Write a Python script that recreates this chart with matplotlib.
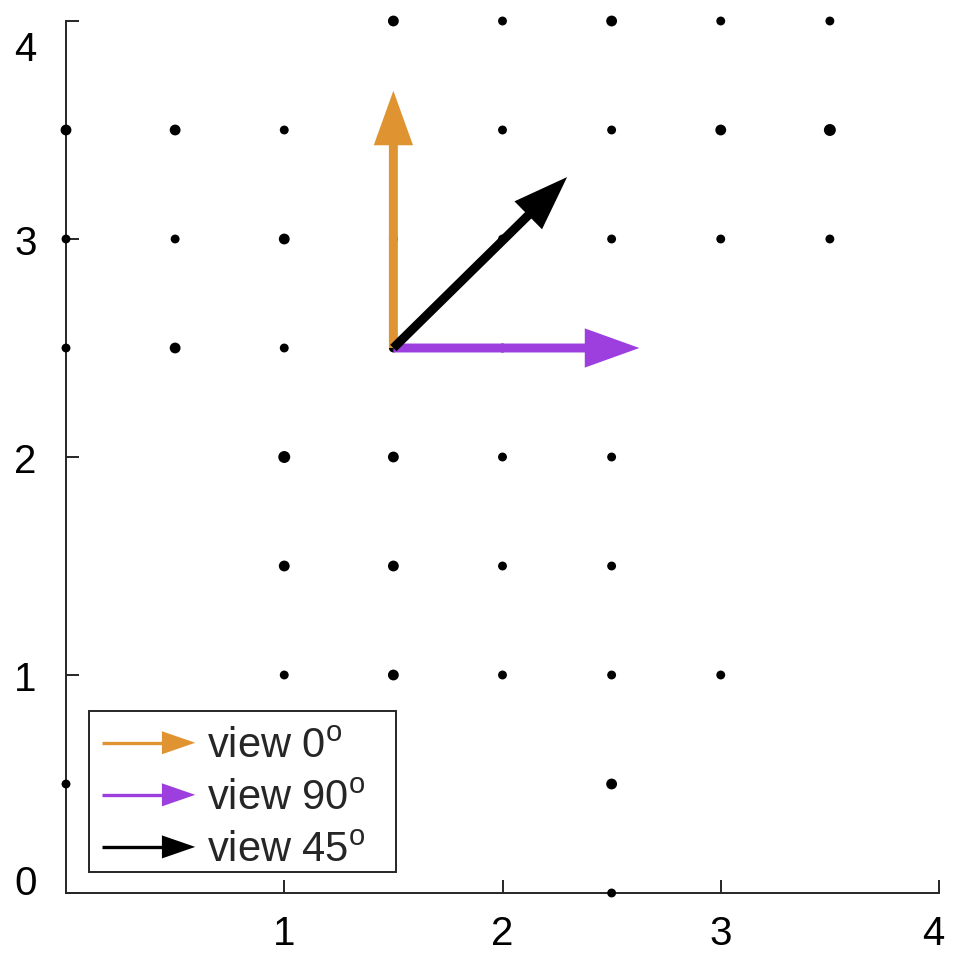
import matplotlib
matplotlib.use('Agg')
import matplotlib.pyplot as plt
import matplotlib.transforms as mtransforms
from matplotlib.legend_handler import HandlerBase
from matplotlib.lines import Line2D
from matplotlib.patches import Polygon, Rectangle

plt.rcParams['font.family'] = ['Liberation Sans', 'DejaVu Sans']
plt.rcParams['mathtext.fontset'] = 'custom'
plt.rcParams['mathtext.rm'] = 'Liberation Sans'
plt.rcParams['mathtext.it'] = 'Liberation Sans'

# ---- data ----
dot_x = [1.5, 2.0, 2.5, 3.0, 3.5,
         0.0, 0.5, 1.0, 1.5, 2.0, 2.5, 3.0, 3.5,
         0.0, 0.5, 1.0, 1.5, 2.0, 2.5, 3.0, 3.5,
         0.0, 0.5, 1.0, 1.5, 2.0, 2.5,
         1.0, 1.5, 2.0, 2.5,
         1.0, 1.5, 2.0, 2.5,
         1.0, 1.5, 2.0, 2.5, 3.0,
         0.0, 2.5,
         2.5]
dot_y = [4.0, 4.0, 4.0, 4.0, 4.0,
         3.5, 3.5, 3.5, 3.5, 3.5, 3.5, 3.5, 3.5,
         3.0, 3.0, 3.0, 3.0, 3.0, 3.0, 3.0, 3.0,
         2.5, 2.5, 2.5, 2.5, 2.5, 2.5,
         2.0, 2.0, 2.0, 2.0,
         1.5, 1.5, 1.5, 1.5,
         1.0, 1.0, 1.0, 1.0, 1.0,
         0.5, 0.5,
         0.0]
# marker diameter class: 0 small, 1 large, 2 extra large
dot_class = [1, 0, 1, 0, 0,
             1, 1, 0, 0, 0, 0, 1, 2,
             0, 0, 1, 0, 0, 0, 0, 0,
             0, 1, 0, 0, 0, 0,
             2, 1, 0, 0,
             1, 1, 0, 0,
             0, 1, 0, 0, 0,
             0, 1,
             0]

arrow_x0 = [1.5, 1.5, 1.5]
arrow_y0 = [2.5, 2.5, 2.5]
arrow_dx = [0.0, 1.127, 0.796]
arrow_dy = [1.18, 0.0, 0.784]
arrow_labels = [r'view 0$^{\mathrm{o}}$', r'view 90$^{\mathrm{o}}$', r'view 45$^{\mathrm{o}}$']
arrow_colors = ['#E09331', '#9D3EDF', '#000000']

x_ticks = [1, 2, 3, 4]
y_ticks = [0, 1, 2, 3, 4]

# ---- figure ----
fig = plt.figure(figsize=(9.69, 9.79), dpi=100)
ax = fig.add_axes([66 / 969, 1 - 894 / 979, 873 / 969, 872 / 979])
ax.set_xlim(0, 4)
ax.set_ylim(0, 4)

class_ms = [6.4, 7.8, 8.6]
sizes = [class_ms[c] ** 2 for c in dot_class]
ax.scatter(dot_x, dot_y, s=sizes, c='black', linewidths=0, zorder=3, clip_on=False)

for x0, y0, dx, dy, col in zip(arrow_x0, arrow_y0, arrow_dx, arrow_dy, arrow_colors):
    ax.arrow(x0, y0, dx, dy, width=0.041, head_width=0.18, head_length=0.25,
             length_includes_head=True, fc=col, ec='none', lw=0, zorder=4)

for s in ['top', 'right']:
    ax.spines[s].set_visible(False)
for s in ['left', 'bottom']:
    ax.spines[s].set_color('#262626')
    ax.spines[s].set_linewidth(1.4)

ax.set_xticks(x_ticks)
ax.set_yticks(y_ticks)
ax.set_xticklabels([str(t) for t in x_ticks])
ax.set_yticklabels([str(t) for t in y_ticks])
ax.tick_params(direction='in', length=9.4, width=1.4, color='#262626',
               labelsize=29, labelcolor='black')
ax.tick_params(axis='x', pad=15)
ax.tick_params(axis='y', pad=21)

ylabs = ax.get_yticklabels()
for lab in ylabs:
    if lab.get_text() == '4':
        lab.set_transform(lab.get_transform() + mtransforms.ScaledTranslation(0, -17 / 72, fig.dpi_scale_trans))
    if lab.get_text() == '0':
        lab.set_transform(lab.get_transform() + mtransforms.ScaledTranslation(0, 10 / 72, fig.dpi_scale_trans))
xlabs = ax.get_xticklabels()
for lab in xlabs:
    if lab.get_text() == '4':
        lab.set_transform(lab.get_transform() + mtransforms.ScaledTranslation(-4 / 72, 0, fig.dpi_scale_trans))


class ArrowHandler(HandlerBase):
    def create_artists(self, legend, orig_handle, xdescent, ydescent, width, height, fontsize, trans):
        color = orig_handle.get_color()
        y = height / 2 - ydescent
        x0 = -xdescent
        x1 = x0 + width
        hl = 24.0
        hw = 8.3
        line = Line2D([x0, x1 - hl + 1], [y, y], color=color, lw=2.4,
                      solid_capstyle='butt', transform=trans)
        head = Polygon([[x1 - hl, y - hw], [x1, y], [x1 - hl, y + hw]], closed=True,
                       fc=color, ec='none', transform=trans)
        return [line, head]


# legend frame drawn separately
frame = Rectangle((23 / 873, 21 / 872), 307 / 873, 161 / 872, transform=ax.transAxes,
                  fc='white', ec='#262626', lw=1.4, zorder=5)
ax.add_patch(frame)

handles = [Line2D([], [], color=c) for c in arrow_colors]
leg = ax.legend(handles, arrow_labels, handler_map={Line2D: ArrowHandler()},
                loc='upper left', bbox_to_anchor=(23 / 873, (894 - 714) / 872),
                borderaxespad=0,
                fontsize=30, handlelength=2.23, handletextpad=0.29, borderpad=0.32,
                labelspacing=0.29, frameon=False)
leg.set_zorder(6)
for t in leg.get_texts():
    t.set_color('#262626')

fig.savefig('out.png', dpi=100)
